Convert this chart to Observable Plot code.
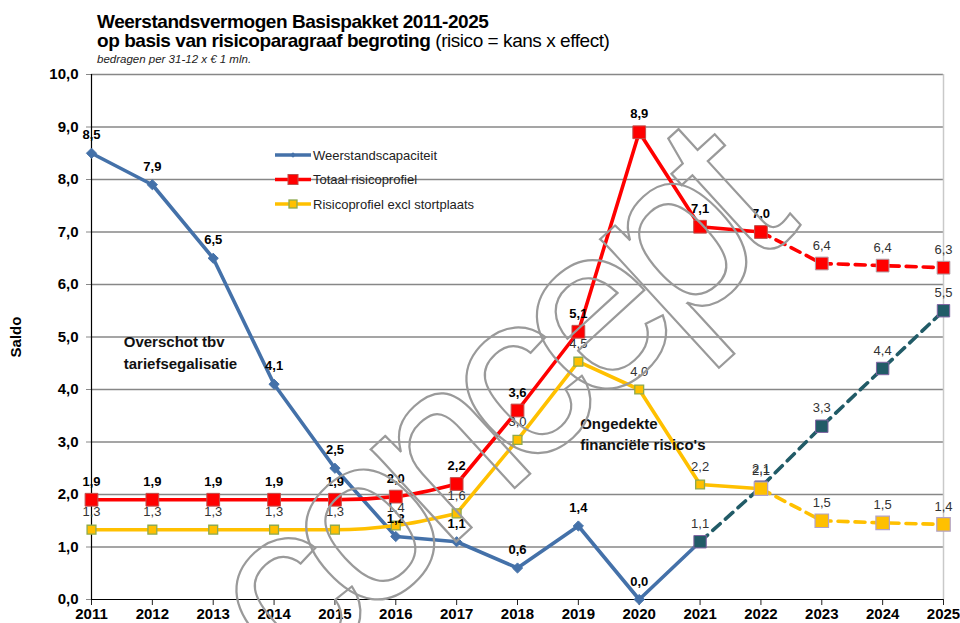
<!DOCTYPE html>
<html>
<head>
<meta charset="utf-8">
<script src="https://cdn.jsdelivr.net/npm/d3@7"></script>
<script src="https://cdn.jsdelivr.net/npm/@observablehq/plot@0.6"></script>
<style>
  html, body { margin: 0; padding: 0; background: #fff; }
  #wrap { position: relative; width: 960px; height: 623px; overflow: hidden; }
  #chart { position: absolute; left: 0; top: 0; }
  #overlay { position: absolute; left: 0; top: 0; pointer-events: none; }
</style>
</head>
<body>
<div id="wrap">
  <div id="chart"></div>
  <svg id="overlay" width="960" height="623"></svg>
</div>
<script>
// ---------- data ----------
const years = [2011, 2012, 2013, 2014, 2015, 2016, 2017, 2018, 2019, 2020, 2021, 2022, 2023, 2024, 2025];
const yTicks = [0, 1, 2, 3, 4, 5, 6, 7, 8, 9, 10];

// Weerstandscapaciteit (realisatie 2011-2021, prognose 2021-2025)
const weerstandYears = [2011, 2012, 2013, 2014, 2015, 2016, 2017, 2018, 2019, 2020, 2021];
const weerstand      = [8.5, 7.9, 6.5, 4.1, 2.5, 1.2, 1.1, 0.6, 1.4, 0.0, 1.1];
const weerstandProgYears = [2021, 2022, 2023, 2024, 2025];
const weerstandProg      = [1.1, 2.14, 3.3, 4.4, 5.5];

// Totaal risicoprofiel
const totaalYears = [2011, 2012, 2013, 2014, 2015, 2016, 2017, 2018, 2019, 2020, 2021, 2022];
const totaal      = [1.9, 1.9, 1.9, 1.9, 1.9, 1.96, 2.2, 3.6, 5.1, 8.9, 7.1, 7.0];
const totaalProgYears = [2022, 2023, 2024, 2025];
const totaalProg      = [7.0, 6.4, 6.36, 6.32];

// Risicoprofiel excl stortplaats
const exclYears = [2011, 2012, 2013, 2014, 2015, 2016, 2017, 2018, 2019, 2020, 2021, 2022];
const excl      = [1.33, 1.33, 1.33, 1.33, 1.33, 1.41, 1.64, 3.04, 4.53, 4.0, 2.19, 2.11];
const exclProgYears = [2022, 2023, 2024, 2025];
const exclProg      = [2.11, 1.5, 1.46, 1.43];

const seriesNames = ["Weerstandscapaciteit", "Totaal risicoprofiel", "Risicoprofiel excl stortplaats"];
const annotations = [
  {year: 2011.53, value: 5.1, text: "Overschot tbv\ntariefsegalisatie"},
  {year: 2019.03, value: 3.55, text: "Ongedekte\nfinanciële risico's"}
];

// ---------- helpers ----------
const rows = (xs, ys) => xs.map((x, i) => ({x, y: ys[i]}));
const fmt = v => v.toFixed(1).replace(".", ",");
const yearFmt = d => String(d);
const W = rows(weerstandYears, weerstand);
const WP = rows(weerstandProgYears, weerstandProg);
const T = rows(totaalYears, totaal);
const TP = rows(totaalProgYears, totaalProg);
const E = rows(exclYears, excl);
const EP = rows(exclProgYears, exclProg);
const smoothEnd = 2017;
const early = d => d.x <= smoothEnd;
const late = d => d.x >= smoothEnd;

const C = {
  blue: "#4471A9", red: "#FF0000", yellow: "#FFC000", teal: "#215B67",
  yellowEdge: "#8EAA4E", purple: "#8064A2", grid: "#878787"
};
const FONT = "'Liberation Sans', Arial, Helvetica, sans-serif";
const lineW = 3.6;

const chart = Plot.plot({
  width: 960, height: 623,
  marginLeft: 91, marginRight: 17, marginTop: 74, marginBottom: 24,
  style: {fontFamily: FONT, background: "transparent", color: "#000", overflow: "visible"},
  x: {domain: [2011, 2025]},
  y: {domain: [0, 10]},
  marks: [
    Plot.gridY(yTicks.filter(d => d > 0), {stroke: C.grid, strokeOpacity: 1, strokeWidth: 1.5}),
    Plot.ruleX([2025], {stroke: "#c9c9c9", strokeWidth: 1.5}),
    Plot.axisX(years, {tickFormat: yearFmt, tickSize: 6, tickPadding: 3, fontSize: 15, fontWeight: "bold", stroke: "#222", label: null}),
    Plot.axisY(yTicks, {tickFormat: fmt, tickSize: 5, tickPadding: 8, fontSize: 15, fontWeight: "bold", stroke: "#888",
      label: "Saldo", labelAnchor: "center", labelOffset: 81, labelArrow: "none"}),
    Plot.ruleX([2011], {stroke: "#000", strokeWidth: 1.2}),
    Plot.ruleY([0], {stroke: "#000", strokeWidth: 1.2}),

    // lines
    Plot.line(W, {x: "x", y: "y", stroke: C.blue, strokeWidth: lineW}),
    Plot.line(WP, {x: "x", y: "y", stroke: C.teal, strokeWidth: lineW, strokeDasharray: "10,7"}),
    Plot.line(T.filter(early), {x: "x", y: "y", stroke: C.red, strokeWidth: lineW, curve: "monotone-x"}),
    Plot.line(T.filter(late), {x: "x", y: "y", stroke: C.red, strokeWidth: lineW}),
    Plot.line(TP, {x: "x", y: "y", stroke: C.red, strokeWidth: lineW, strokeDasharray: "10,7"}),
    Plot.line(E.filter(early), {x: "x", y: "y", stroke: C.yellow, strokeWidth: lineW, curve: "monotone-x"}),
    Plot.line(E.filter(late), {x: "x", y: "y", stroke: C.yellow, strokeWidth: lineW}),
    Plot.line(EP, {x: "x", y: "y", stroke: C.yellow, strokeWidth: lineW, strokeDasharray: "10,7"}),

    // markers
    Plot.dot(W.filter(d => d.x < 2021), {x: "x", y: "y", symbol: "diamond2", r: 4.6, fill: C.blue, stroke: C.blue, strokeWidth: 1}),
    Plot.dot(WP, {x: "x", y: "y", symbol: "square", r: 7.0, fill: C.teal, stroke: C.purple, strokeWidth: 1}),
    Plot.dot(T, {x: "x", y: "y", symbol: "square", r: 7.2, fill: C.red, stroke: "#C0504D", strokeWidth: 1}),
    Plot.dot(TP.filter(d => d.x > 2022), {x: "x", y: "y", symbol: "square", r: 7.2, fill: C.red, stroke: "#B0A0A8", strokeWidth: 1}),
    Plot.dot(E.filter(d => d.x < 2022), {x: "x", y: "y", symbol: "square", r: 5.0, fill: C.yellow, stroke: C.yellowEdge, strokeWidth: 1.3}),
    Plot.dot(EP, {x: "x", y: "y", symbol: "square", r: 7.6, fill: C.yellow, stroke: "#B3A2C7", strokeWidth: 1.2}),

    // value labels
    Plot.text(W.filter(d => d.x < 2021), {x: "x", y: "y", text: d => fmt(d.y), dy: -18, fontSize: 13, fontWeight: "bold", fill: "#000"}),
    Plot.text(T, {x: "x", y: "y", text: d => fmt(d.y), dy: -18, fontSize: 13, fontWeight: "bold", fill: "#000"}),
    Plot.text(E, {x: "x", y: "y", text: d => fmt(d.y), dy: -18, fontSize: 13, fill: "#333"}),
    Plot.text(EP.filter(d => d.x > 2022), {x: "x", y: "y", text: d => fmt(d.y), dy: -18, fontSize: 13, fill: "#333"}),
    Plot.text(TP.filter(d => d.x > 2022), {x: "x", y: "y", text: d => fmt(d.y), dy: -18, fontSize: 13, fill: "#333"}),
    Plot.text(WP, {x: "x", y: "y", text: d => fmt(d.y), dy: -18, fontSize: 13, fill: "#333"}),

    // annotations
    Plot.text(annotations, {x: "year", y: "value", text: "text", textAnchor: "start", lineAnchor: "top",
      lineHeight: 1.45, fontSize: 15, fontWeight: "bold", fill: "#111"})
  ]
});
document.getElementById("chart").appendChild(chart);

// ---------- overlay: title, legend, watermark ----------
const ov = d3.select("#overlay");
const title = ov.append("g").attr("font-family", FONT).attr("fill", "#000");
title.append("text").attr("x", 97).attr("y", 28).attr("font-size", 19).attr("font-weight", "bold")
  .attr("letter-spacing", -0.45).text("Weerstandsvermogen Basispakket 2011-2025");
const t2 = title.append("text").attr("x", 97).attr("y", 47).attr("font-size", 19).attr("letter-spacing", -0.45);
t2.append("tspan").attr("font-weight", "bold").text("op basis van risicoparagraaf begroting");
t2.append("tspan").text(" (risico = kans x effect)");
title.append("text").attr("x", 97).attr("y", 63).attr("font-size", 11.5).attr("font-style", "italic")
  .attr("fill", "#222").text("bedragen  per 31-12 x € 1 mln.");

const legend = ov.append("g").attr("font-family", FONT).attr("font-size", 13).attr("fill", "#222");
const legendStyles = [
  {color: C.blue, marker: "diamond"},
  {color: C.red, marker: "bigsquare"},
  {color: C.yellow, marker: "smallsquare"}
];
seriesNames.forEach((name, i) => {
  const cy = 155 + i * 24.5;
  const g = legend.append("g");
  g.append("line").attr("x1", 275).attr("x2", 311).attr("y1", cy).attr("y2", cy)
    .attr("stroke", legendStyles[i].color).attr("stroke-width", 3.6);
  const m = legendStyles[i].marker;
  if (m === "diamond") {
    g.append("path").attr("d", d3.symbol(d3.symbolDiamond2, 20)()).attr("transform", `translate(293,${cy})`)
      .attr("fill", C.blue);
  } else if (m === "bigsquare") {
    g.append("rect").attr("x", 288).attr("y", cy - 5).attr("width", 10).attr("height", 10)
      .attr("fill", C.red).attr("stroke", "#C0504D");
  } else {
    g.append("rect").attr("x", 289).attr("y", cy - 4).attr("width", 8).attr("height", 8)
      .attr("fill", C.yellow).attr("stroke", C.yellowEdge).attr("stroke-width", 1.3);
  }
  g.append("text").attr("x", 313).attr("y", cy).attr("dy", "0.35em").text(name);
});

// watermark
ov.append("text")
  .attr("transform", "translate(496,418) rotate(-42.5)")
  .attr("text-anchor", "middle").attr("dy", "0.27em")
  .attr("font-family", FONT).attr("font-size", 238).attr("letter-spacing", -24)
  .attr("fill", "none").attr("stroke", "#9a9a9a").attr("stroke-width", 2.2)
  .text("concept");
</script>
</body>
</html>
